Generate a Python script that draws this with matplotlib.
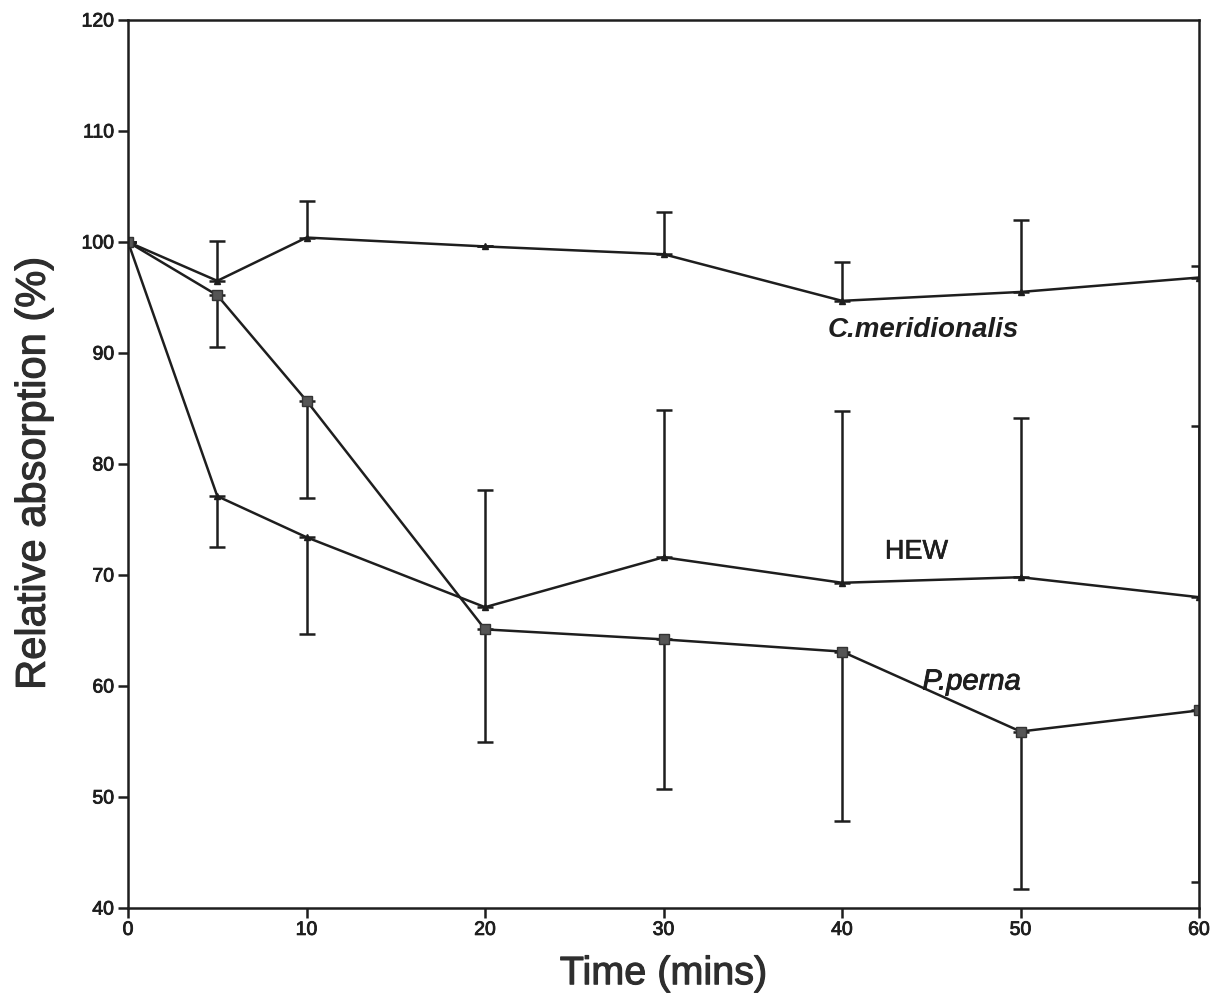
import matplotlib
matplotlib.use("Agg")
import matplotlib.pyplot as plt
import matplotlib.patheffects as pe
import numpy as np

plt.rcParams['font.family'] = ['Liberation Sans', 'DejaVu Sans']

# Sampling times (minutes)
time = [0, 5, 10, 20, 30, 40, 50, 60]

# C. meridionalis: mean relative absorption and upward error
cmer = [100, 96.5, 100.4, 99.6, 98.9, 94.7, 95.5, 96.8]
cmer_up = [0, 3.6, 3.3, 0, 3.8, 3.5, 6.5, 1.0]

# HEW: mean relative absorption, lower and upper error
hew = [100, 77.1, 73.4, 67.1, 71.6, 69.3, 69.8, 68.0]
hew_lo = [0, 4.6, 8.7, 0, 0, 0, 0, 0]
hew_up = [0, 0, 0, 10.6, 13.3, 15.5, 14.3, 15.4]

# P. perna: mean relative absorption and downward error
pperna = [100, 95.2, 85.7, 65.1, 64.2, 63.1, 55.9, 57.8]
pperna_lo = [0, 4.7, 8.8, 10.1, 13.5, 15.3, 14.2, 15.5]

x_ticks = [0, 10, 20, 30, 40, 50, 60]
y_ticks = [40, 50, 60, 70, 80, 90, 100, 110, 120]

ink = '#1e1e1e'
label_ink = '#2e2e2e'
heavy = [pe.withStroke(linewidth=0.6, foreground=ink)]
heavy_label = [pe.withStroke(linewidth=0.8, foreground=label_ink)]

fig = plt.figure(figsize=(12.23, 10), dpi=100)
ax = fig.add_axes([0.1047, 0.092, 0.8757, 0.888])

err_kw = dict(ecolor=ink, elinewidth=1.8, capsize=6, capthick=1.8, color=ink, lw=1.8)

ax.errorbar(time, cmer, yerr=[np.zeros(len(cmer)), cmer_up],
            marker='^', ms=5, mfc=ink, mec=ink, **err_kw)
ax.errorbar(time, hew, yerr=[hew_lo, hew_up],
            marker='^', ms=5, mfc=ink, mec=ink, **err_kw)
ax.errorbar(time, pperna, yerr=[pperna_lo, np.zeros(len(pperna))],
            marker='s', ms=7, mfc='#555555', mec='#333333', **err_kw)

ax.set_xlim(0, 60)
ax.set_ylim(40, 120)
ax.set_xticks(x_ticks)
ax.set_yticks(y_ticks)
ax.tick_params(direction='out', length=7, width=1.8, labelsize=14, colors=ink,
               top=False, right=False, pad=3)
for lab in ax.get_xticklabels() + ax.get_yticklabels():
    lab.set_path_effects(heavy)
for s in ax.spines.values():
    s.set_linewidth(1.8)
    s.set_color(ink)

ax.set_xlabel('Time (mins)', fontsize=28.5, color=label_ink, labelpad=11,
              path_effects=heavy_label)
ax.set_ylabel('Relative absorption (%)', fontsize=30, color=label_ink, labelpad=20,
              path_effects=heavy_label)
ax.yaxis.label.set_y(0.489)

ax.text(39.2, 92.1, 'C.meridionalis', fontsize=20, style='italic', weight='bold',
        color=ink, va='center', ha='left')
ax.text(42.4, 72.1, 'HEW', fontsize=19.5, color=ink, va='center', ha='left',
        path_effects=[pe.withStroke(linewidth=0.4, foreground=ink)])
ax.text(44.5, 60.4, 'P.perna', fontsize=21, style='italic', color=ink,
        va='center', ha='left', path_effects=heavy)

fig.savefig('out.png', dpi=100)
